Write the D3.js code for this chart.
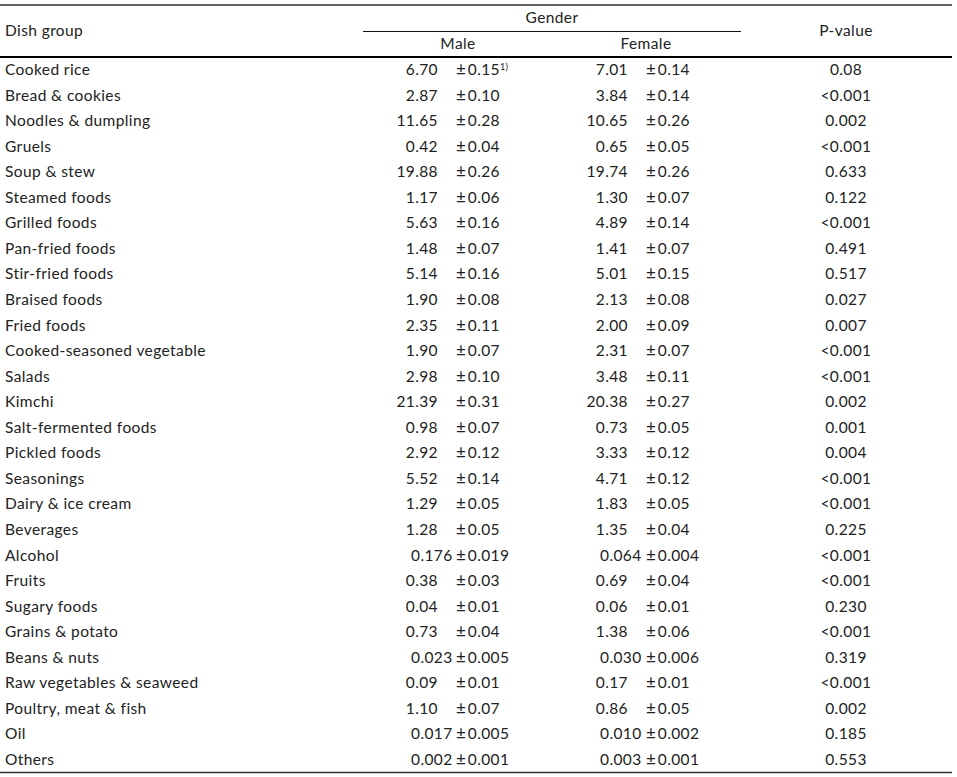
<!DOCTYPE html>
<html><head><meta charset="utf-8">
<script src="https://cdn.jsdelivr.net/npm/d3@7/dist/d3.min.js"></script>
<style>
body{margin:0;background:#fff;}
svg text{font-family:Lato,"Open Sans",sans-serif;font-size:15.5px;letter-spacing:0.4px;fill:#222;}
</style></head>
<body><svg id="chart" width="957" height="777"></svg>
<script>
const dishGroups = ["Cooked rice","Bread & cookies","Noodles & dumpling","Gruels","Soup & stew","Steamed foods","Grilled foods","Pan-fried foods","Stir-fried foods","Braised foods","Fried foods","Cooked-seasoned vegetable","Salads","Kimchi","Salt-fermented foods","Pickled foods","Seasonings","Dairy & ice cream","Beverages","Alcohol","Fruits","Sugary foods","Grains & potato","Beans & nuts","Raw vegetables & seaweed","Poultry, meat & fish","Oil","Others"];
const maleMean = ["6.70","2.87","11.65","0.42","19.88","1.17","5.63","1.48","5.14","1.90","2.35","1.90","2.98","21.39","0.98","2.92","5.52","1.29","1.28","0.176","0.38","0.04","0.73","0.023","0.09","1.10","0.017","0.002"];
const maleSD = ["0.15","0.10","0.28","0.04","0.26","0.06","0.16","0.07","0.16","0.08","0.11","0.07","0.10","0.31","0.07","0.12","0.14","0.05","0.05","0.019","0.03","0.01","0.04","0.005","0.01","0.07","0.005","0.001"];
const femaleMean = ["7.01","3.84","10.65","0.65","19.74","1.30","4.89","1.41","5.01","2.13","2.00","2.31","3.48","20.38","0.73","3.33","4.71","1.83","1.35","0.064","0.69","0.06","1.38","0.030","0.17","0.86","0.010","0.003"];
const femaleSD = ["0.14","0.14","0.26","0.05","0.26","0.07","0.14","0.07","0.15","0.08","0.09","0.07","0.11","0.27","0.05","0.12","0.12","0.05","0.04","0.004","0.04","0.01","0.06","0.006","0.01","0.05","0.002","0.001"];
const pValues = ["0.08","<0.001","0.002","<0.001","0.633","0.122","<0.001","0.491","0.517","0.027","0.007","<0.001","<0.001","0.002","0.001","0.004","<0.001","<0.001","0.225","<0.001","<0.001","0.230","<0.001","0.319","<0.001","0.002","0.185","0.553"];
const headers = {dish:"Dish group", gender:"Gender", male:"Male", female:"Female", p:"P-value"};
const footnoteMark = "1)";

const svg = d3.select("#chart");
const rows = dishGroups.map((d,i)=>({dish:d, mm:maleMean[i], ms:maleSD[i], fm:femaleMean[i], fs:femaleSD[i], p:pValues[i]}));

const y = d3.scalePoint().domain(d3.range(rows.length)).range([70, 760]);
const lineColor = "#333";

// rules
svg.append("line").attr("x1",0).attr("x2",952).attr("y1",5).attr("y2",5).attr("stroke",lineColor).attr("stroke-width",1.3);
svg.append("line").attr("x1",363).attr("x2",741).attr("y1",31.5).attr("y2",31.5).attr("stroke","#111").attr("stroke-width",1.2);
svg.append("line").attr("x1",0).attr("x2",952).attr("y1",57).attr("y2",57).attr("stroke","#000").attr("stroke-width",2.2);
svg.append("line").attr("x1",0).attr("x2",952).attr("y1",772.5).attr("y2",772.5).attr("stroke",lineColor).attr("stroke-width",1.6);

// headers
const hy = (cy)=>cy+5;
svg.append("text").attr("x",5).attr("y",hy(31)).text(headers.dish);
svg.append("text").attr("x",552).attr("y",hy(18)).attr("text-anchor","middle").text(headers.gender);
svg.append("text").attr("x",458).attr("y",hy(44)).attr("text-anchor","middle").text(headers.male);
svg.append("text").attr("x",646).attr("y",hy(44)).attr("text-anchor","middle").text(headers.female);
svg.append("text").attr("x",846).attr("y",hy(31)).attr("text-anchor","middle").text(headers.p);

const g = svg.append("g").selectAll("g").data(rows).join("g")
  .attr("transform",(d,i)=>`translate(0,${y(i)+5})`);

g.append("text").attr("x",5).text(d=>d.dish);

function meanCell(sel, key, rightX, leftX){
  sel.append("text")
    .attr("x", d => (d[key].split(".")[1]||"").length>2 ? leftX : rightX)
    .attr("text-anchor", d => (d[key].split(".")[1]||"").length>2 ? "start" : "end")
    .text(d=>d[key]);
}
meanCell(g,"mm",438,411);
meanCell(g,"fm",628,600);

function sdCell(sel, key, x, mark){
  const t = sel.append("text").attr("x",x);
  t.append("tspan").style("font-size","17px").text("±");
  t.append("tspan").attr("dx",1.5).text(d=>d[key]);
  if(mark) t.filter((d,i)=>i===0).append("tspan").attr("dy",-5).style("font-size","9px").text(mark);
}
sdCell(g,"ms",456,footnoteMark);
sdCell(g,"fs",646,null);

g.append("text").attr("x",846).attr("text-anchor","middle").text(d=>d.p);
</script></body></html>
